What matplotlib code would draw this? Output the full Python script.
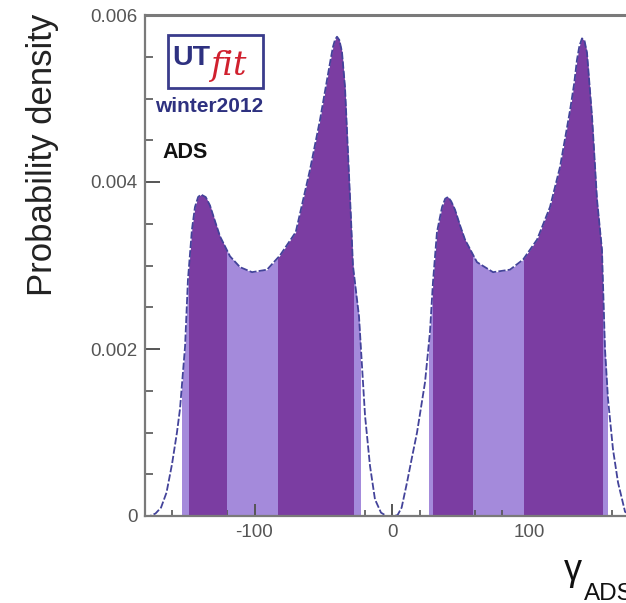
import numpy as np
import matplotlib
matplotlib.use("Agg")
import matplotlib.pyplot as plt
from matplotlib.patches import Rectangle
from matplotlib.ticker import MultipleLocator, FixedLocator, FixedFormatter

# ---- data ----
gamma = [-180, -176, -172, -168, -164, -160, -156.4, -154.2, -150.5, -148.4, -145.5, -143.3,
         -141, -138.9, -135.5, -132.4, -128.5, -125.1, -117.8, -110.5, -101.8, -90.9, -81.5, -70, -59.6, -52.4,
         -47.3, -44.5, -42.9, -41.5, -40, -38.3, -36.4, -34.2, -32, -29.8, -28.4, -24, -21.8, -19.6, -16, -12.4,
         -8, -4, 0, 4, 7, 10.9, 14.5, 18.2, 24, 27.6, 29.8, 32.7, 36.4, 38.7, 40.7, 43, 45.8, 49.5, 53.1, 61.8,
         73.5, 85.8, 95.3, 105.5, 114.9, 122.2, 129.5, 132.5, 134.5, 136.3, 138.2, 140, 141.8, 145.5, 149.1,
         152.7, 154.9, 157.1, 160.7, 164.4, 169.5, 175, 180]
density = [0.0, 0.0, 0.00003, 0.0001, 0.00028, 0.00062, 0.0010, 0.00128, 0.00203, 0.00283, 0.00343, 0.0037,
           0.00382, 0.00385, 0.00382, 0.00372, 0.00352, 0.00335, 0.00311, 0.00298, 0.00292, 0.00295, 0.00312, 0.0034, 0.00415, 0.00474,
           0.00522, 0.00548, 0.00562, 0.0057, 0.00574, 0.0057, 0.00556, 0.00514, 0.00435, 0.00355, 0.0030, 0.00239, 0.00179, 0.0012, 0.0006, 0.0002,
           0.00004, 0.0, 0.0, 0.00001, 0.0001, 0.0004, 0.0007, 0.0010, 0.0016, 0.0022, 0.0028, 0.0034, 0.0037, 0.0038, 0.00382, 0.00377, 0.00367, 0.00348, 0.00331, 0.00304,
           0.00292, 0.00295, 0.00307, 0.00331, 0.0037, 0.00418, 0.00486, 0.00518, 0.00546, 0.00563, 0.00572, 0.00569, 0.00555, 0.00478, 0.00379,
           0.00319, 0.0020, 0.0014, 0.0008, 0.0004, 0.00005, 0.0, 0.0]

# probability intervals (lower, upper)
interval95 = [(-152.7, -23.3), (27.0, 156.0)]
interval68 = [(-147.6, -120.7), (-82.9, -28.4), (30.0, 58.0), (96.0, 153.0)]

xtick_vals = [-100, 0, 100]
xtick_labels = ["-100", "0", "100"]
ytick_vals = [0, 0.002, 0.004, 0.006]
ytick_labels = ["0", "0.002", "0.004", "0.006"]

# ---- figure ----
W, H = 626, 603
plt.rcParams['font.family'] = ['Liberation Sans', 'DejaVu Sans']
fig = plt.figure(figsize=(W / 100, H / 100), dpi=100)
fig.patch.set_facecolor('white')

def fx(px):
    return px / W

def fy(py):
    return 1 - py / H

ax = fig.add_axes([144.5 / W, 87 / H, 495 / W, 501 / H])
ax.set_xlim(-180, 180)
ax.set_ylim(0, 0.006)

light = '#A48ADB'
dark = '#7B3DA2'
line_c = '#43439A'

def band(lo, hi, color, z):
    coll = ax.fill_between(gamma, density, 0, color=color, lw=0, zorder=z)
    r = Rectangle((lo, 0), hi - lo, 0.01, transform=ax.transData)
    coll.set_clip_path(r)

for lo, hi in interval95:
    band(lo, hi, light, 1)
for lo, hi in interval68:
    band(lo, hi, dark, 2)

ax.plot(gamma, density, color=line_c, lw=1.3, ls=(0, (4, 1.2)), zorder=3)

for s in ['left', 'bottom', 'top']:
    ax.spines[s].set_color('#7a7a7a')
    ax.spines[s].set_linewidth(1.6)
    ax.spines[s].set_zorder(5)
ax.spines['top'].set_linewidth(2.2)
ax.spines['right'].set_visible(False)

ax.xaxis.set_major_locator(FixedLocator(xtick_vals))
ax.xaxis.set_major_formatter(FixedFormatter(xtick_labels))
ax.xaxis.set_minor_locator(MultipleLocator(20))
ax.yaxis.set_major_locator(FixedLocator(ytick_vals))
ax.yaxis.set_major_formatter(FixedFormatter(ytick_labels))
ax.yaxis.set_minor_locator(MultipleLocator(0.0005))

ax.tick_params(which='both', direction='in', colors='#555555', top=False, right=False)
ax.tick_params(axis='y', which='major', length=11, width=1.4, labelsize=13.5, pad=5, labelcolor='#555555')
ax.tick_params(axis='y', which='minor', length=5.5, width=1.2)
ax.tick_params(axis='x', which='major', length=9, width=1.4, labelsize=13.5, pad=6, labelcolor='#555555')
ax.tick_params(axis='x', which='minor', length=4.5, width=1.2)

# y label
fig.text(fx(43), fy(155), 'Probability density', rotation=90, ha='center', va='center',
         fontsize=25, color='#222222')

# x label
fig.text(fx(564), fy(580), 'γ', ha='left', va='baseline', fontsize=26, color='#111111')
fig.text(fx(584), fy(600), 'ADS', ha='left', va='baseline', fontsize=17.5, color='#111111')

# logo
fig.add_artist(Rectangle((fx(168), fy(88)), (263 - 168) / W, (88 - 35) / H,
                         transform=fig.transFigure, facecolor='white',
                         edgecolor='#3A3C8C', lw=2.0, zorder=6))
fig.text(fx(172), fy(65), 'UT', ha='left', va='baseline', fontsize=20.5, fontweight='bold',
         color='#2E3180', zorder=7)
fig.text(fx(210), fy(75), 'fit', ha='left', va='baseline', fontsize=24, style='italic',
         family='DejaVu Serif', color='#D0202E', zorder=7)
fig.text(fx(155), fy(112), 'winter2012', ha='left', va='baseline', fontsize=15, fontweight='bold',
         color='#2E3180', zorder=7)
fig.text(fx(162), fy(158), 'ADS', ha='left', va='baseline', fontsize=15.5, fontweight='bold',
         color='#111111', zorder=7)

fig.savefig('out.png', dpi=100)
